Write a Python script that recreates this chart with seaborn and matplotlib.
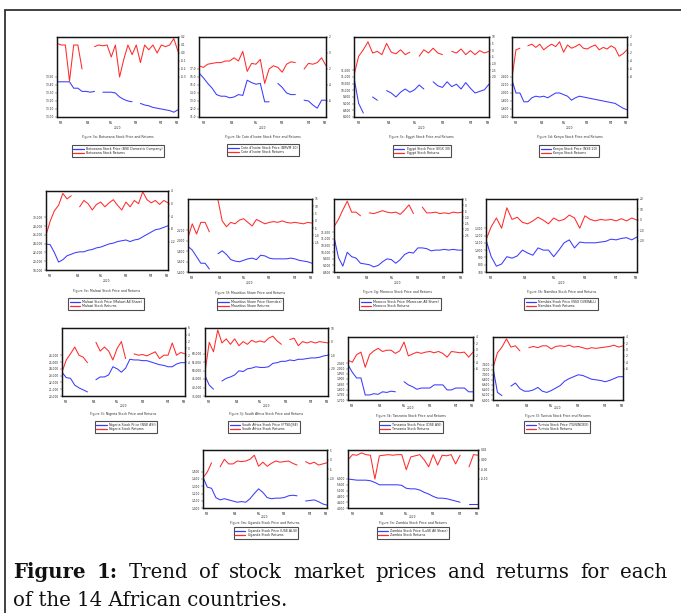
import numpy as np
import pandas as pd
import matplotlib
matplotlib.use("Agg")
import matplotlib.pyplot as plt
import seaborn as sns
from matplotlib.lines import Line2D
from matplotlib.patches import Rectangle

sns.set_style("white")
plt.rcParams['font.family'] = ['DejaVu Sans']

N = None
months = ["M3", "M4", "M5", "M6", "M7", "M8"]
month_pos = [1, 7.5, 13, 19, 25, 28.7]
year_label = "2020"

countries = ["Botswana", "Cote d'Ivoire", "Egypt", "Kenya", "Malawi", "Mauritius", "Morocco",
             "Namibia", "Nigeria", "South Africa", "Tanzania", "Tunisia", "Uganda", "Zambia"]
fig_ids = ["3a", "3b", "3c", "3d", "3e", "3f", "3g", "3h", "3i", "3j", "3k", "3l", "3m", "3n"]
price_names = ["Botswana Stock Price (BSE Domestic Company)", "Cote d'Ivoire Stock Price (BRVM 10)",
               "Egypt Stock Price (EGX 30)", "Kenya Stock Price (NSE 20)",
               "Malawi Stock Price (Malawi All Share)", "Mauritius Share Price (Semdex)",
               "Morocco Stock Price (Moroccan All Share)", "Namibia Stock Price (NSX OVERALL)",
               "Nigeria Stock Price (NSE ASI)", "South Africa Stock Price (FTSE/JSE)",
               "Tanzania Stock Price (DSE ASI)", "Tunisia Stock Price (TUNINDEX)",
               "Uganda Stock Price (USE ALSI)", "Zambia Stock Price (LuSE All Share)"]
return_names = ["Botswana Stock Returns", "Cote d'Ivoire Stock Returns", "Egypt Stock Returns",
                "Kenya Stock Returns", "Malawi Stock Returns", "Mauritius Share Returns",
                "Morocco Stock Returns", "Namibia Stock Returns", "Nigeria Stock Returns",
                "South Africa Stock Returns", "Tanzania Stock Returns", "Tunisia Stock Returns",
                "Uganda Stock Returns", "Zambia Stock Returns"]

botswana_price = [13.44, 13.44, 13.44, 13.44, 13.36, 13.36, 13.32, 13.32, 13.31, 13.32, N, 13.31, 13.31, 13.31, 13.30,
                  13.25, 13.22, 13.20, 13.19, N, 13.17, 13.15, 13.14, 13.12, 13.11, 13.10, 13.09, 13.08, 13.06, 13.09]
botswana_ret = [0.12, 0.10, 0.10, -0.35, 0.10, 0.10, -0.20, N, N, 0.08, 0.10, 0.09, 0.10, -0.05, 0.10,
                -0.30, -0.08, 0.10, -0.02, 0.10, -0.12, 0.10, 0.04, 0.10, 0.00, 0.10, 0.08, 0.10, 0.18, 0.02]
ivoire_price = [16.5, 15.9, 15.2, 14.6, 13.8, 13.6, 13.6, 13.4, 13.5, 13.8, 13.7, 15.6, 15.3, 15.1, 15.2,
                12.9, 12.9, N, 15.2, 14.7, 14.0, 13.8, 13.8, N, 13.1, 13.0, 12.5, 12.1, 13.1, 13.1]
ivoire_ret = [-1.6, -1.8, -1.4, -1.3, -1.2, -1.2, -1.0, -1.0, -0.6, -1.0, 0.2, -2.3, -1.3, -1.4, -0.8,
              -3.8, -2.0, -1.6, -1.8, -2.4, -1.4, -1.1, -1.2, N, -2.0, -1.3, -1.4, -1.2, -0.6, -1.6]
egypt_price = [10940, 9020, 8300, N, 9500, 9260, N, 9980, 9800, 9500, 9860, 10100, 9860, 10040, 10400,
               10100, N, 10640, 10340, 10220, 10640, 10280, 10460, 10100, 10580, 10160, 9800, 9920, 10040, 10460]
egypt_ret = [-18.8, -4.4, 0.4, 6.4, -2.0, -0.8, -3.2, 5.2, -1.4, -2.6, 0.4, -3.2, -1.4, N, -4.4,
             0.4, -2.0, 1.6, -2.0, -3.2, N, -0.8, -2.0, 1.0, -3.2, -0.2, -3.2, -0.2, -2.0, -0.8]
kenya_price = [2320, 2000, 2000, 1780, 1780, 1880, 1920, 1900, 1920, 1880, 1940, 2000, 2000, 1960, 1920,
               1820, 1880, 1920, 1900, 1880, 1860, 1840, 1820, 1800, 1780, 1760, 1740, 1680, 1620, 1580]
kenya_ret = [-8.2, -1.2, -0.8, N, -0.2, 0.2, -0.6, 0.2, -1.2, -0.4, 0.2, -0.4, 0.8, -1.8, 0.0,
             -0.8, -0.4, 0.2, -0.8, -1.0, -0.4, 0.0, -1.2, -0.6, -1.0, -0.2, -0.8, -2.8, -2.2, -1.2]
malawi_price = [23940, 23760, 21960, 19800, 20340, 21240, 21600, 21960, 22140, 22140, 22500, 22680, 23040, 23220, 23580,
                23940, 24120, 24480, 24660, 24840, 24480, 24840, 25020, 25560, 26100, 26640, 27180, 27360, 27720, 28080]
malawi_ret = [-10, -5.5, -2.25, -0.5, 3.25, 1.5, 2.5, N, -1, 1, 0, -2, -0.25, 0.5, -1,
              0.25, 1.25, -0.5, -2, 0.5, -1, 1, 0, 3.75, 1.25, 0.25, 1, -0.25, 1, 0.25]
mauritius_price = [1890, 1820, 1694, 1568, 1568, 1456, N, 1750, 1806, 1736, 1638, 1610, 1596, 1624, 1652,
                   1666, 1638, 1722, 1708, 1666, 1652, 1652, 1652, 1652, 1666, 1652, 1624, 1610, 1596, 1568]
mauritius_ret = [-11.5, -2, -9, -1, -1, -7.5, N, 14.5, 0, -4, -1, -2, 0.5, 1.5, -1,
                 -3.5, 1, -0.5, -2, -1, -0.5, -1, 0, -1, -1.5, -1, -1.5, -2, -1, -1.5]
morocco_price = [11140, 9600, 8940, 9985, 9655, 9545, 9160, 9105, 9050, 8885, 8995, 9270, 9490, 9435, 9160,
                 9435, 9820, 9985, 9930, 10315, 10315, 10260, 10095, 10150, 10150, 10205, 10150, 10205, 10150, 10150]
morocco_ret = [-17.8, -11.8, -4, 3.2, -5.8, -5.8, -8.8, N, -6.4, -7, -5.8, -4.6, -5.8, -6.4, -5.8,
               -7.6, -4, 0.2, -7, N, -1.6, -6.4, -6.4, -5.8, -7, -6.4, -7, -5.8, -6.4, -5.8]
namibia_price = [1140, 910, 780, 810, 910, 890, 920, 1000, 960, 930, 1030, 1000, 1000, 910, 1000,
                 1100, 1140, 1030, 1110, 1100, 1100, 1100, 1110, 1120, 1150, 1140, 1160, 1170, 1140, 1180]
namibia_ret = [-19.2, -6.6, 1.8, -8, 11.6, 0.4, 2.5, -2.4, -3.8, -1, 2.5, -0.3, -3.8, 1.8, -1,
               0.4, 4.6, 1.8, -8, 3.9, 0.4, -1, 0.4, -0.3, 0.4, -1, 1.1, -1, 1.8, -0.3]
nigeria_price = [23500, 22700, 22600, 21600, 21200, 20900, 20600, N, 22400, 22800, 22800, 23100, 24300, 24000, 23500,
                 24100, 25400, 25300, 25300, 25200, 25200, 25000, 24800, 24600, 24500, 24300, 24300, 24700, 24900, 24900]
nigeria_ret = [-7, -3.4, -1.6, 0.4, -2, -2.6, -4.2, N, 1.8, -0.8, 0.4, -0.8, -3.4, 0, 2,
               -3, N, -1.6, -2, -1.8, -2.2, -1.6, -1, -3, -2, -2, 1.6, -2, -1.2, -1.6]
safrica_price = [47000, 41400, 39000, N, 43800, 45400, 46200, 47400, 49800, 49400, 51000, 51400, 52200, 51800, 51800,
                 52200, 54200, 54600, 55400, 55400, 56200, 55800, 56600, 56600, 57000, 57400, 57400, 57800, 58600, 59000]
safrica_ret = [-22.5, -0.5, -7.5, 8.5, -1, 2, -2, 2, -3, 0, -2, 1, -0.5, 0.5, -0.5,
               2.5, 4, 0.5, -2, N, 1.5, 2.5, -3, 0, -1, 0, -1, 0, -0.5, -1]
tanzania_price = [2036, 1964, 1910, 1910, 1748, 1748, 1760, 1754, 1778, 1772, 1784, 1778, N, 1874, 1844,
                  1826, 1802, 1814, 1814, 1814, 1844, 1844, 1844, 1796, 1796, 1814, 1814, 1814, 1778, 1778]
tanzania_ret = [-3.4, -4, -1.6, -0.8, -5.6, -1.6, -0.4, 0.4, -0.6, -0.2, -0.2, -1.2, -0.4, 2.4, -2,
                -1.4, -0.8, -1.2, -0.8, -0.6, -1, -0.6, -1.2, -2.4, -0.6, -0.8, -1, -0.8, -2.4, -0.8]
tunisia_price = [7275, 6300, 6175, N, 6550, 6675, 6450, 6350, 6350, 6400, 6500, 6350, 6300, 6375, 6475,
                 6575, 6750, 6850, 6925, 7000, 6975, 6900, 6825, 6800, 6775, 6725, 6775, 6850, 6925, 6925]
tunisia_ret = [-5.8, -1, 0.8, 3.4, 0.8, 1.2, -0.4, N, 0.6, 1, 0.6, 1.2, 1.2, 0.2, 1,
               1.2, 1, 1.4, 0.8, 1, 0.6, 0.2, 0.6, 0.4, 0.6, 0.8, 1, 1.4, 0.8, 1.2]
uganda_price = [1424, 1288, 1272, 1144, 1112, 1128, 1112, 1096, 1080, 1088, 1080, 1128, 1200, 1264, 1216,
                1144, 1128, 1136, 1136, 1144, 1168, 1176, 1168, N, 1096, 1104, 1112, 1088, 1056, 1040]
uganda_ret = [-9.4, -6.4, -1.6, N, -3.7, 0.2, -2.2, -2.2, -0.7, -1, -0.7, 0.2, 2.3, -3.4, -1.3,
              -3.4, -1.9, -0.7, -1.3, -1, -0.7, -1.9, -2.8, N, -1, -2.2, -1.3, -2.8, -2.2, -1.6]
zambia_price = [6000, 5960, 5920, 5920, 5920, 5880, 5760, 5600, 5600, 5600, 5600, 5600, 5560, 5360, 5320,
                5320, 5240, 5080, 4960, 4800, 4680, 4680, 4640, 4560, 4480, 4400, N, 4280, 4280, 4280]
zambia_ret = [-0.001, 0.026, 0.023, 0.035, 0.026, 0.023, -0.100, 0.020, 0.023, 0.026, 0.023, 0.026, 0.026, -0.052, 0.014,
              0.020, 0.026, -0.001, -0.037, 0.026, -0.028, 0.023, 0.020, 0.026, -0.022, 0.023, N, -0.037, 0.026, 0.023]

prices = [botswana_price, ivoire_price, egypt_price, kenya_price, malawi_price, mauritius_price, morocco_price,
          namibia_price, nigeria_price, safrica_price, tanzania_price, tunisia_price, uganda_price, zambia_price]
returns = [botswana_ret, ivoire_ret, egypt_ret, kenya_ret, malawi_ret, mauritius_ret, morocco_ret,
           namibia_ret, nigeria_ret, safrica_ret, tanzania_ret, tunisia_ret, uganda_ret, zambia_ret]

# price axis: (ylim, ticks, fmt); returns axis: (ylim, ticks, fmt)
price_axes = [((13.0, 14.0), [13.0, 13.1, 13.2, 13.3, 13.4, 13.5], "{:.2f}"),
              ((11, 21), [11, 12, 13, 14, 15, 16, 17], "{:.1f}"),
              ((8000, 14000), [8000, 8500, 9000, 9500, 10000, 10500, 11000, 11500], "{:,.0f}"),
              ((1400, 3400), [1400, 1600, 1800, 2000, 2200, 2400], "{:,.0f}"),
              ((18000, 36000), [18000, 20000, 22000, 24000, 26000, 28000, 30000], "{:,.0f}"),
              ((1400, 2800), [1400, 1600, 1800, 2000, 2200], "{:,.0f}"),
              ((8500, 14000), [8500, 9000, 9500, 10000, 10500, 11000, 11500], "{:,.0f}"),
              ((700, 1700), [700, 800, 900, 1000, 1100, 1200, 1300], "{:,.0f}"),
              ((20000, 30000), [20000, 21000, 22000, 23000, 24000, 25000, 26000], "{:,.0f}"),
              ((35000, 75000), [35000, 40000, 45000, 50000, 55000, 60000], "{:,.0f}"),
              ((1700, 2300), [1700, 1750, 1800, 1850, 1900, 1950, 2000, 2050], "{:,.0f}"),
              ((6000, 8500), [6000, 6200, 6400, 6600, 6800, 7000, 7200, 7400], "{:,.0f}"),
              ((1000, 1800), [1000, 1100, 1200, 1300, 1400, 1500], "{:,.0f}"),
              ((4000, 8000), [4000, 4400, 4800, 5200, 5600, 6000], "{:,.0f}")]
return_axes = [((-0.8, 0.2), [0.2, 0.1, 0.0, -0.1, -0.2, -0.3], "{:.1f}"),
               ((-8, 2), [2, 0, -2, -4, -6], "{:.0f}"),
               ((-50, 10), [10, 5, 0, -5, -10, -15, -20], "{:.0f}"),
               ((-18, 2), [2, 0, -2, -4, -6, -8], "{:.0f}"),
               ((-21, 4), [4, 0, -4, -8, -12], "{:.0f}"),
               ((-35, 15), [15, 10, 5, 0, -5, -10, -15], "{:.0f}"),
               ((-55, 5), [5, 0, -5, -10, -15, -20, -25], "{:.0f}"),
               ((-50, 20), [20, 10, 0, -10, -20], "{:.0f}"),
               ((-14, 6), [6, 4, 2, 0, -2, -4], "{:.0f}"),
               ((-40, 10), [10, 0, -10, -20], "{:.0f}"),
               ((-16, 4), [4, 2, 0, -2, -4, -6], "{:.0f}"),
               ((-16, 4), [4, 2, 0, -2, -4, -6], "{:.0f}"),
               ((-25, 5), [5, 0, -5, -10], "{:.0f}"),
               ((-0.25, 0.05), [0.05, 0.0, -0.05, -0.10], "{:.2f}")]

# layout in pixels: box (x0, y0, x1, y1), year_y, title_y, legend (x, y)
layout = [((57, 37, 178, 117), 128, 137, (118, 151)),
          ((199, 37, 326, 117), 128, 137, (263, 150)),
          ((354, 37, 489, 117), 128, 137, (422, 151)),
          ((512, 37, 627, 117), 128, 137, (569, 151)),
          ((46, 191, 168, 270), 281, 291, (106, 304)),
          ((188, 199, 312, 272), 283, 293, (250, 304)),
          ((334, 199, 462, 272), 283, 292, (400, 304)),
          ((486, 199, 637, 272), 283, 292, (561, 304)),
          ((62, 328, 185, 396), 406, 414, (126, 427)),
          ((205, 328, 328, 396), 406, 414, (264, 427)),
          ((348, 337, 473, 400), 408, 416, (411, 427)),
          ((493, 337, 623, 400), 408, 416, (557, 427)),
          ((203, 450, 327, 508), 517, 523, (266, 533)),
          ((348, 450, 478, 508), 517, 523, (413, 533))]

W, H = 681, 613
BLUE = "#3a3aff"
RED = "#ff2a2a"
SMALL = 2.1

fig = plt.figure(figsize=(W / 100, H / 100), dpi=100)
fig.patch.set_facecolor("white")


def draw_series(ax, vals, color):
    s = pd.Series(vals, dtype=float)
    seg = s.isna().cumsum()
    df = pd.DataFrame({"t": np.arange(len(s)), "v": s, "seg": seg}).dropna()
    sns.lineplot(data=df, x="t", y="v", units="seg", estimator=None, color=color,
                 lw=0.75, ax=ax, legend=False)


for i in range(14):
    (x0, y0, x1, y1), year_y, title_y, (lx, ly) = layout[i]
    ax = fig.add_axes([x0 / W, 1 - y1 / H, (x1 - x0) / W, (y1 - y0) / H])
    ax2 = ax.twinx()
    draw_series(ax, prices[i], BLUE)
    draw_series(ax2, returns[i], RED)
    n = len(prices[i])
    for a in (ax, ax2):
        a.set_xlim(0, n - 1)
        a.set_xlabel("")
        a.set_ylabel("")
        for sp in a.spines.values():
            sp.set_linewidth(0.9)
            sp.set_color("#151515")
    plim, pt, pf = price_axes[i]
    rlim, rt, rf = return_axes[i]
    ax.set_ylim(*plim)
    ax.set_yticks(pt)
    ax.set_yticklabels([pf.format(v) for v in pt])
    ax2.set_ylim(*rlim)
    ax2.set_yticks(rt)
    ax2.set_yticklabels([rf.format(v) for v in rt])
    ax.set_xticks(month_pos)
    ax.set_xticklabels(months)
    ax.set_xticks(range(n), minor=True)
    ax.tick_params(axis="x", which="major", labelsize=SMALL, length=2.0, width=0.4, pad=1.2, direction="out")
    ax.tick_params(axis="x", which="minor", length=1.2, width=0.3, direction="out")
    ax.tick_params(axis="y", labelsize=SMALL, length=1.2, width=0.3, pad=0.8, direction="out")
    ax2.tick_params(axis="y", labelsize=SMALL, length=1.2, width=0.3, pad=0.8, direction="out")
    cx = (x0 + x1) / 2 / W
    fig.text(cx, 1 - year_y / H, year_label, fontsize=SMALL, ha="center", va="center", color="#333")
    fig.text(cx, 1 - title_y / H, f"Figure {fig_ids[i]}: {countries[i]} {'Share' if countries[i] == 'Mauritius' else 'Stock'} Price and Returns",
             fontsize=2.3, ha="center", va="center", color="#333")
    handles = [Line2D([], [], color=BLUE, lw=0.9), Line2D([], [], color=RED, lw=0.9)]
    leg = fig.legend(handles, [price_names[i], return_names[i]], loc="center",
                     bbox_to_anchor=(lx / W, 1 - ly / H), bbox_transform=fig.transFigure,
                     fontsize=2.3, frameon=True, fancybox=False, edgecolor="#222",
                     borderpad=0.45, handlelength=3.2, handletextpad=0.7, labelspacing=0.2,
                     borderaxespad=0)
    leg.get_frame().set_linewidth(0.8)

# outer border (left and top visible)
fig.patches.append(Rectangle((5 / W, -0.1), 1.2, 1.1 - 10 / H, transform=fig.transFigure,
                             fill=False, lw=1.3, edgecolor="#333333"))

# caption, justified first line
cap_font = ["DejaVu Serif"]
cap_size = 14.2
line1 = [("Figure", "bold"), ("1:", "bold"), ("Trend", "normal"), ("of", "normal"), ("stock", "normal"),
         ("market", "normal"), ("prices", "normal"), ("and", "normal"), ("returns", "normal"),
         ("for", "normal"), ("each", "normal")]
y_line1 = 1 - 572 / H
texts = [fig.text(0, y_line1, w, fontsize=cap_size, family=cap_font, weight=wt, ha="left",
                  va="center", color="#111") for w, wt in line1]
fig.canvas.draw()
r = fig.canvas.get_renderer()
widths = [t.get_window_extent(r).width for t in texts]
xl, xr = 13, 667
gap = (xr - xl - sum(widths)) / (len(texts) - 1)
xpos = xl
for t, w in zip(texts, widths):
    t.set_x(xpos / W)
    xpos += w + gap
fig.text(xl / W, 1 - 600 / H, "of the 14 African countries.", fontsize=cap_size, family=cap_font,
         ha="left", va="center", color="#111")

fig.savefig("out.png", dpi=100, facecolor="white")
